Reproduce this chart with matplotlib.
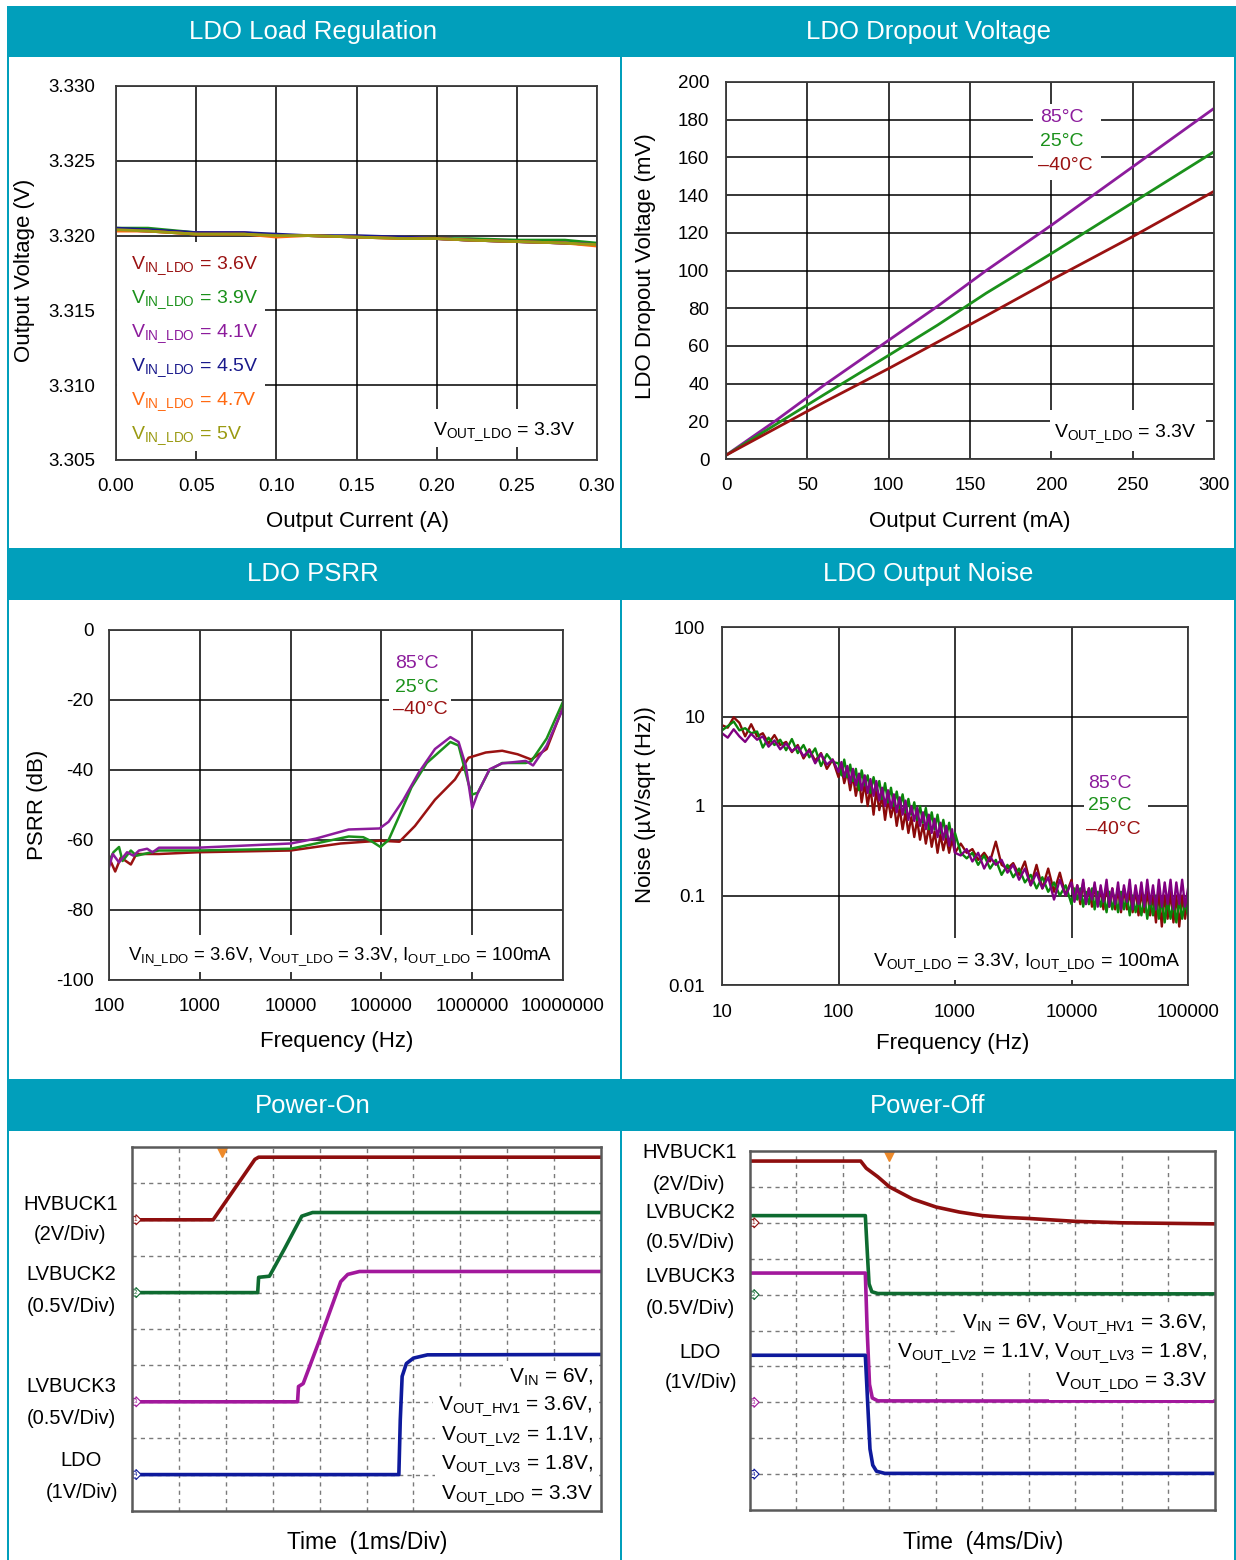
import numpy as np
import matplotlib
matplotlib.use('Agg')
import matplotlib.pyplot as plt
from matplotlib.patches import Rectangle

plt.rcParams['font.family'] = ['Liberation Sans', 'DejaVu Sans']
plt.rcParams['mathtext.fontset'] = 'custom'
plt.rcParams['mathtext.rm'] = 'Liberation Sans'
plt.rcParams['mathtext.it'] = 'Liberation Sans:italic'
plt.rcParams['mathtext.bf'] = 'Liberation Sans:bold'

# ---------------- data ----------------
# Load regulation
load_I = [0, 0.02, 0.05, 0.08, 0.10, 0.12, 0.15, 0.18, 0.20, 0.22, 0.25, 0.28, 0.30]
load_v36 = [3.3204, 3.3203, 3.3201, 3.3201, 3.3200, 3.3200, 3.3199, 3.3198, 3.3198, 3.3197, 3.3196, 3.3195, 3.3194]
load_v39 = [3.3205, 3.3205, 3.3202, 3.3201, 3.3200, 3.3200, 3.3199, 3.3199, 3.3198, 3.3198, 3.3197, 3.3197, 3.3195]
load_v41 = [3.3204, 3.3203, 3.3202, 3.3202, 3.3200, 3.3200, 3.3199, 3.3199, 3.3198, 3.3197, 3.3196, 3.3195, 3.3194]
load_v45 = [3.3205, 3.3204, 3.3202, 3.3202, 3.3201, 3.3200, 3.3200, 3.3199, 3.3198, 3.3197, 3.3196, 3.3195, 3.3194]
load_v47 = [3.3203, 3.3203, 3.3201, 3.3201, 3.3199, 3.3200, 3.3199, 3.3198, 3.3198, 3.3197, 3.3196, 3.3195, 3.3193]
load_v50 = [3.3204, 3.3203, 3.3201, 3.3201, 3.3200, 3.3200, 3.3199, 3.3198, 3.3198, 3.3197, 3.3196, 3.3195, 3.3194]
load_names = ['3.6V', '3.9V', '4.1V', '4.5V', '4.7V', '5V']
load_xticks = [0, 0.05, 0.10, 0.15, 0.20, 0.25, 0.30]
load_yticks = [3.305, 3.310, 3.315, 3.320, 3.325, 3.330]

# Dropout voltage
drop_I = [0, 30, 60, 100, 130, 160, 200, 250, 300]
drop_85 = [2, 20, 39, 63, 81, 100, 124, 155, 186]
drop_25 = [2, 18, 34, 55, 71, 88, 109, 136, 163]
drop_m40 = [2, 16, 30, 48, 62, 76, 95, 118, 142]
drop_xticks = [0, 50, 100, 150, 200, 250, 300]
drop_yticks = [0, 20, 40, 60, 80, 100, 120, 140, 160, 180, 200]

# PSRR
psrr_f85 = [100, 110, 129, 158, 186, 214, 263, 302, 355, 955, 10000, 19000, 43600, 95500, 120000,
            174000, 257000, 389000, 575000, 708000, 851000, 1000000, 1150000, 1550000, 2140000,
            3890000, 4680000, 6610000, 10000000]
psrr_85 = [-67.8, -64, -66.4, -63.5, -64.5, -63, -62.5, -63.5, -62.2, -62.2, -61, -59.6, -57, -56.7, -54.8,
           -48.6, -40.8, -34, -30.6, -32, -38.8, -50.9, -46.6, -39.8, -38.1,
           -37.4, -38.7, -33, -22.4]
psrr_f25 = [100, 112, 129, 141, 174, 200, 355, 955, 10000, 19000, 43600, 63100, 79400, 97700, 120000,
            158000, 214000, 316000, 575000, 708000, 912000, 1000000, 1150000, 1550000, 2140000,
            3890000, 4470000, 6610000, 10000000]
psrr_25 = [-66, -63.5, -62, -66, -63, -64.5, -63, -63, -62.5, -61, -59, -59.2, -60.5, -62, -60,
           -53, -45, -38, -32, -33, -44, -47, -46.5, -40, -38,
           -38, -37.5, -31, -20.5]
psrr_fm40 = [100, 117, 135, 174, 200, 355, 955, 10000, 35500, 95500, 158000, 234000, 389000, 646000,
             912000, 1410000, 2140000, 3160000, 4470000, 6610000, 10000000]
psrr_m40 = [-65, -69, -65, -67, -64, -64, -63.5, -63, -61, -60.2, -60.5, -56, -48.5, -42.7,
            -36.5, -35, -34.5, -35.5, -37, -34, -22]
psrr_xticks = [100, 1000, 10000, 100000, 1000000, 10000000]
psrr_xticklabels = ['100', '1000', '10000', '100000', '1000000', '10000000']
psrr_yticks = [-100, -80, -60, -40, -20, 0]
psrr_yticklabels = ['-100', '-80', '-60', '-40', '-20', '0']

# Output noise (frequency samples: coarse / fine steps inside each decade)
noise_coarse = [1.0, 1.12, 1.26, 1.41, 1.58, 1.78, 2.0, 2.24, 2.51, 2.82,
                3.16, 3.55, 3.98, 4.47, 5.01, 5.62, 6.31, 7.08, 7.94, 8.91]
noise_fine = [1.0, 1.06, 1.12, 1.19, 1.26, 1.33, 1.41, 1.5, 1.58, 1.68,
              1.78, 1.88, 2.0, 2.11, 2.24, 2.37, 2.51, 2.66, 2.82, 2.99,
              3.16, 3.35, 3.55, 3.76, 3.98, 4.22, 4.47, 4.73, 5.01, 5.31,
              5.62, 5.96, 6.31, 6.68, 7.08, 7.5, 7.94, 8.41, 8.91, 9.44]
noise_f = ([b * 10 for b in noise_coarse] + [b * 100 for b in noise_fine] +
           [b * 1000 for b in noise_coarse] + [b * 10000 for b in noise_fine] + [100000])
noise_85 = [6.5, 5.8, 7.2, 6.0, 5.2, 6.4, 5.5, 6.0, 4.6, 5.4, 4.3, 5.0, 4.1, 4.6, 3.6, 4.2, 3.0, 3.8, 2.9, 3.3,
            2.4, 3.1, 2.1, 2.8, 1.8, 2.6, 1.7, 2.3, 1.5, 2.2, 1.4, 2.0, 1.3, 1.9, 1.15, 1.6, 1.0, 1.5, 0.95, 1.35,
            0.85, 1.25, 0.8, 1.15, 0.7, 1.0, 0.68, 0.95, 0.6, 0.85, 0.55, 0.8, 0.5, 0.72, 0.45, 0.65, 0.42, 0.6, 0.36, 0.55,
            0.3, 0.28, 0.33, 0.24, 0.3, 0.2, 0.27, 0.22, 0.25, 0.18, 0.22, 0.15, 0.2, 0.13, 0.18, 0.12, 0.16, 0.09, 0.15, 0.1,
            0.14, 0.085, 0.13, 0.09, 0.15, 0.08, 0.12, 0.09, 0.14, 0.075, 0.13, 0.085, 0.15, 0.075, 0.12, 0.08, 0.14, 0.07, 0.13, 0.085,
            0.15, 0.07, 0.13, 0.08, 0.14, 0.075, 0.15, 0.08, 0.13, 0.07, 0.15, 0.075, 0.14, 0.08, 0.15, 0.07, 0.14, 0.08, 0.15, 0.075,
            0.12]
noise_25 = [7.0, 7.8, 8.8, 7.0, 7.4, 6.5, 6.8, 4.5, 5.8, 4.8, 5.5, 4.2, 5.6, 3.9, 4.8, 3.5, 4.4, 2.8, 3.8, 3.1,
            3.0, 2.2, 3.3, 2.1, 2.9, 1.9, 2.6, 1.5, 2.5, 1.7, 2.2, 1.4, 2.1, 1.5, 1.9, 1.2, 1.8, 1.1, 1.6, 1.0,
            1.45, 0.95, 1.35, 0.85, 1.2, 0.8, 1.1, 0.7, 1.0, 0.65, 0.95, 0.55, 0.85, 0.55, 0.8, 0.5, 0.7, 0.45, 0.65, 0.42,
            0.5, 0.3, 0.26, 0.3, 0.22, 0.28, 0.2, 0.25, 0.17, 0.22, 0.16, 0.2, 0.14, 0.17, 0.12, 0.16, 0.11, 0.14, 0.1, 0.13,
            0.08, 0.12, 0.09, 0.12, 0.075, 0.11, 0.08, 0.12, 0.07, 0.11, 0.075, 0.1, 0.065, 0.11, 0.07, 0.1, 0.065, 0.11, 0.07, 0.1,
            0.06, 0.1, 0.065, 0.09, 0.06, 0.1, 0.055, 0.09, 0.06, 0.1, 0.055, 0.09, 0.05, 0.09, 0.055, 0.085, 0.05, 0.09, 0.055, 0.085,
            0.06]
noise_m40 = [8.0, 7.5, 9.8, 8.5, 6.0, 8.2, 6.0, 6.5, 5.0, 6.2, 4.8, 5.2, 4.0, 4.8, 3.4, 4.3, 3.2, 3.9, 2.6, 3.3,
             2.1, 2.7, 1.8, 2.4, 1.5, 2.2, 1.3, 2.0, 1.1, 1.8, 1.0, 1.6, 0.8, 1.5, 0.9, 1.3, 0.7, 1.2, 0.75, 1.05,
             0.6, 0.95, 0.55, 0.85, 0.5, 0.75, 0.45, 0.7, 0.42, 0.62, 0.38, 0.58, 0.35, 0.52, 0.3, 0.48, 0.32, 0.45, 0.3, 0.42,
             0.3, 0.38, 0.3, 0.33, 0.25, 0.3, 0.24, 0.4, 0.22, 0.2, 0.23, 0.17, 0.24, 0.13, 0.22, 0.12, 0.2, 0.11, 0.18, 0.1,
             0.15, 0.09, 0.13, 0.08, 0.14, 0.085, 0.12, 0.075, 0.13, 0.08, 0.12, 0.07, 0.13, 0.075, 0.12, 0.07, 0.12, 0.065, 0.12, 0.07,
             0.11, 0.065, 0.12, 0.06, 0.11, 0.065, 0.11, 0.06, 0.1, 0.05, 0.11, 0.045, 0.1, 0.055, 0.11, 0.05, 0.1, 0.045, 0.1, 0.055,
             0.1]
noise_xticks = [10, 100, 1000, 10000, 100000]
noise_xticklabels = ['10', '100', '1000', '10000', '100000']
noise_yticks = [0.01, 0.1, 1, 10, 100]
noise_yticklabels = ['0.01', '0.1', '1', '10', '100']

# Power-on scope traces (divisions)
on_hv1_t = [0, 1.73, 2.62, 2.70, 10]
on_hv1_v = [8.0, 8.0, 9.66, 9.72, 9.72]
on_lv2_t = [0, 2.68, 2.70, 2.93, 3.25, 3.62, 3.85, 10]
on_lv2_v = [6.0, 6.0, 6.42, 6.45, 7.2, 8.1, 8.2, 8.2]
on_lv3_t = [0, 3.53, 3.55, 3.65, 4.0, 4.45, 4.6, 4.85, 10]
on_lv3_v = [3.0, 3.0, 3.42, 3.5, 4.7, 6.3, 6.5, 6.58, 6.58]
on_ldo_t = [0, 5.69, 5.72, 5.76, 5.85, 6.0, 6.3, 10]
on_ldo_v = [1.0, 1.0, 2.5, 3.7, 4.05, 4.2, 4.29, 4.3]
on_trigger = 1.92

# Power-off scope traces (divisions)
off_hv1_t = [0, 2.38, 2.5, 2.75, 3.0, 3.5, 4.0, 4.5, 5.0, 5.5, 6.0, 7.0, 8.0, 10]
off_hv1_v = [9.72, 9.72, 9.52, 9.28, 9.0, 8.66, 8.44, 8.3, 8.2, 8.15, 8.12, 8.04, 8.0, 7.97]
off_lv2_t = [0, 2.48, 2.53, 2.56, 2.62, 2.75, 10]
off_lv2_v = [8.2, 8.2, 7.0, 6.3, 6.08, 6.03, 6.02]
off_lv3_t = [0, 2.48, 2.52, 2.57, 2.63, 2.75, 10]
off_lv3_v = [6.6, 6.6, 5.0, 3.5, 3.12, 3.04, 3.03]
off_ldo_t = [0, 2.48, 2.53, 2.58, 2.64, 2.72, 2.9, 10]
off_ldo_v = [4.31, 4.31, 3.0, 1.7, 1.25, 1.08, 1.02, 1.02]
off_trigger = 3.0
gnd_levels = [8.0, 6.0, 3.0, 1.0]

# ---------------- style ----------------
TEAL = '#019FBB'
C_RED = '#9A1212'
C_GRN = '#1B911B'
C_PUR = '#8C1C9C'
C_NAV = '#1A1A8C'
C_ORG = '#FF6A12'
C_OLV = '#9A9A12'
N_RED = '#8B0A0A'
N_GRN = '#0A850A'
N_PUR = '#800080'
S_RED = '#8E0E0E'
S_GRN = '#0E6B30'
S_MAG = '#A2189C'
S_BLU = '#0E1A9C'

W, H = 1236, 1560
fig = plt.figure(figsize=(W / 100, H / 100), dpi=100)
bg = fig.add_axes([0, 0, 1, 1])
bg.set_xlim(0, W)
bg.set_ylim(H, 0)
bg.axis('off')

# frame and headers
for (x, y, w, h) in [(7, 6, 2, H), (620, 6, 2, H), (1234, 6, 2, H),
                     (7, 6, 1229, 51), (7, 548, 1229, 52), (7, 1079, 1229, 52)]:
    bg.add_patch(Rectangle((x, y), w, h, fc=TEAL, ec='none'))
for (tx, ty, s) in [(313, 32, 'LDO Load Regulation'), (928, 32, 'LDO Dropout Voltage'),
                    (313, 574, 'LDO PSRR'), (928, 574, 'LDO Output Noise'),
                    (313, 1106, 'Power-On'), (928, 1106, 'Power-Off')]:
    bg.text(tx, ty, s, color='white', fontsize=18.5, ha='center', va='center')


def pax(l, t, r, b):
    return fig.add_axes([l / W, 1 - b / H, (r - l) / W, (b - t) / H])


def style(ax):
    ax.set_axisbelow(True)
    ax.grid(True, which='major', color='black', lw=1.1)
    ax.tick_params(which='both', length=0, labelsize=13.5, colors='black')
    for s in ax.spines.values():
        s.set_color('#3a3a3a')
        s.set_linewidth(1.3)


def wrect(ax, x0, y0, x1, y1):
    ax.add_patch(Rectangle((x0, y0), x1 - x0, y1 - y0, transform=bg.transData,
                           fc='white', ec='none', zorder=1))


def ptext(ax, x, y, s, color='black', ha='left', size=14, **kw):
    ax.text(x, y, s, transform=bg.transData, color=color, ha=ha, va='center',
            fontsize=size, zorder=4, **kw)


def sub(main, s):
    return main + r'$_{\mathrm{' + s + '}}$'


VIN = sub('V', r'IN\_LDO')
VOUT = sub('V', r'OUT\_LDO')
IOUT = sub('I', r'OUT\_LDO')

# ---------------- Panel 1: load regulation ----------------
ax1 = pax(116, 86, 597, 460)
style(ax1)
cols1 = [C_RED, C_GRN, C_PUR, C_NAV, C_ORG, C_OLV]
for v, c in zip([load_v36, load_v39, load_v41, load_v45, load_v47, load_v50], cols1):
    ax1.plot(load_I, v, color=c, lw=2.0, zorder=2)
ax1.set_xlim(0, 0.30)
ax1.set_ylim(3.305, 3.330)
ax1.set_xticks(load_xticks)
ax1.set_xticklabels(['%.2f' % v for v in load_xticks])
ax1.set_yticks(load_yticks)
ax1.set_yticklabels(['%.3f' % v for v in load_yticks])
ax1.tick_params(axis='x', pad=13)
ax1.tick_params(axis='y', pad=15)
wrect(ax1, 117, 242, 265, 451)
for i, (name, c) in enumerate(zip(load_names, cols1)):
    ptext(ax1, 131, 266 + 34 * i, VIN + ' = ' + name, color=c)
wrect(ax1, 431, 409, 585, 447)
ptext(ax1, 433, 432, VOUT + ' = 3.3V')
bg.text(357, 521, 'Output Current (A)', fontsize=16, ha='center', va='center')
bg.text(25, 270, 'Output Voltage (V)', fontsize=16, ha='center', va='center', rotation=90)

# ---------------- Panel 2: dropout ----------------
ax2 = pax(726, 82, 1214, 459)
style(ax2)
ax2.plot(drop_I, drop_85, color=C_PUR, lw=2.0, zorder=2)
ax2.plot(drop_I, drop_25, color=C_GRN, lw=2.0, zorder=2)
ax2.plot(drop_I, drop_m40, color=C_RED, lw=2.0, zorder=2)
ax2.set_xlim(0, 300)
ax2.set_ylim(0, 200)
ax2.set_xticks(drop_xticks)
ax2.set_yticks(drop_yticks)
ax2.tick_params(axis='x', pad=13)
ax2.tick_params(axis='y', pad=12)
wrect(ax2, 1033, 104, 1101, 180)
ptext(ax2, 1040, 118, '85°C', color=C_PUR)
ptext(ax2, 1040, 142, '25°C', color=C_GRN)
ptext(ax2, 1038, 166, '–40°C', color=C_RED)
wrect(ax2, 1050, 410, 1206, 451)
ptext(ax2, 1054, 434, VOUT + ' = 3.3V')
bg.text(970, 521, 'Output Current (mA)', fontsize=16, ha='center', va='center')
bg.text(646, 266, 'LDO Dropout Voltage (mV)', fontsize=16, ha='center', va='center', rotation=90)

# ---------------- Panel 3: PSRR ----------------
ax3 = pax(109, 630, 563, 980)
ax3.set_xscale('log')
style(ax3)
ax3.minorticks_off()
ax3.plot(psrr_fm40, psrr_m40, color=C_RED, lw=1.8, zorder=2)
ax3.plot(psrr_f25, psrr_25, color=C_GRN, lw=1.8, zorder=2)
ax3.plot(psrr_f85, psrr_85, color=C_PUR, lw=1.8, zorder=2)
ax3.set_xlim(100, 1e7)
ax3.set_ylim(-100, 0)
ax3.set_xticks(psrr_xticks)
ax3.set_xticklabels(psrr_xticklabels)
ax3.set_yticks(psrr_yticks)
ax3.set_yticklabels(psrr_yticklabels)
ax3.tick_params(axis='x', pad=13)
ax3.tick_params(axis='y', pad=11)
wrect(ax3, 389, 650, 451, 722)
ptext(ax3, 395, 664, '85°C', color=C_PUR)
ptext(ax3, 395, 687, '25°C', color=C_GRN)
ptext(ax3, 393, 710, '–40°C', color=C_RED)
wrect(ax3, 120, 935, 556, 972)
ptext(ax3, 128, 957, VIN + ' = 3.6V, ' + VOUT + ' = 3.3V, ' + IOUT + ' = 100mA', size=13.4)
bg.text(337, 1042, 'Frequency (Hz)', fontsize=16, ha='center', va='center')
bg.text(38, 805, 'PSRR (dB)', fontsize=16, ha='center', va='center', rotation=90)

# ---------------- Panel 4: noise ----------------
ax4 = pax(722, 627, 1188, 985)
ax4.set_xscale('log')
ax4.set_yscale('log')
style(ax4)
ax4.minorticks_off()
ax4.plot(noise_f, noise_m40, color=N_RED, lw=1.7, zorder=2)
ax4.plot(noise_f, noise_25, color=N_GRN, lw=1.7, zorder=2)
ax4.plot(noise_f, noise_85, color=N_PUR, lw=1.7, zorder=2)
ax4.set_xlim(10, 1e5)
ax4.set_ylim(0.01, 100)
ax4.set_xticks(noise_xticks)
ax4.set_xticklabels(noise_xticklabels)
ax4.set_yticks(noise_yticks)
ax4.set_yticklabels(noise_yticklabels)
ax4.tick_params(axis='x', pad=14)
ax4.tick_params(axis='y', pad=12)
wrect(ax4, 1084, 770, 1148, 843)
ptext(ax4, 1088, 783, '85°C', color=C_PUR)
ptext(ax4, 1088, 806, '25°C', color=C_GRN)
ptext(ax4, 1086, 830, '–40°C', color=C_RED)
wrect(ax4, 865, 938, 1182, 980)
ptext(ax4, 873, 963, VOUT + ' = 3.3V, ' + IOUT + ' = 100mA')
bg.text(953, 1044, 'Frequency (Hz)', fontsize=16, ha='center', va='center')
bg.text(646, 805, 'Noise (µV/sqrt (Hz))', fontsize=16, ha='center', va='center', rotation=90)


# ---------------- scope panels ----------------
def scope(l, t, r, b):
    ax = pax(l, t, r, b)
    ax.set_xlim(0, 10)
    ax.set_ylim(0, 10)
    ax.set_xticks(range(1, 10))
    ax.set_yticks(range(1, 10))
    ax.set_axisbelow(True)
    ax.grid(True, color='#7a7a7a', lw=1.0, ls=(0, (3, 3)))
    ax.tick_params(length=0, labelbottom=False, labelleft=False)
    for s in ax.spines.values():
        s.set_color('#5a5a5a')
        s.set_linewidth(1.8)
        s.set_zorder(6)
    return ax


def ch_markers(ax, cols):
    for i, (lvl, c) in enumerate(zip(gnd_levels, cols)):
        ax.text(0.04, lvl, str(i + 1), fontsize=4.5, color=c, ha='left', va='center', zorder=5,
                bbox=dict(boxstyle='rarrow,pad=0.15', fc='white', ec=c, lw=0.8))


scols = [S_RED, S_GRN, S_MAG, S_BLU]
ax5 = scope(132, 1147, 601, 1511)
for (t, v), c in zip([(on_hv1_t, on_hv1_v), (on_lv2_t, on_lv2_v),
                      (on_lv3_t, on_lv3_v), (on_ldo_t, on_ldo_v)], scols):
    ax5.plot(t, v, color=c, lw=2.6, zorder=2)
ch_markers(ax5, scols)
ax5.plot([on_trigger], [9.85], marker='v', color='#EE8A2A', ms=7, zorder=5, clip_on=False)
on_lines = [sub('V', 'IN') + ' = 6V,', sub('V', r'OUT\_HV1') + ' = 3.6V,',
            sub('V', r'OUT\_LV2') + ' = 1.1V,', sub('V', r'OUT\_LV3') + ' = 1.8V,',
            sub('V', r'OUT\_LDO') + ' = 3.3V']
for i, s in enumerate(on_lines):
    ax5.text(593, 1377 + 29.5 * i, s, transform=bg.transData, ha='right', va='center',
             fontsize=15, zorder=4, bbox=dict(fc='white', ec='none', pad=4.0))
for (x, y, s) in [(71, 1204, 'HVBUCK1'), (70, 1235, '(2V/Div)'), (71, 1274, 'LVBUCK2'),
                  (71, 1306, '(0.5V/Div)'), (71, 1387, 'LVBUCK3'), (71, 1418, '(0.5V/Div)'),
                  (81, 1461, 'LDO'), (82, 1492, '(1V/Div)')]:
    bg.text(x, y, s, fontsize=14.5, ha='center', va='center')
bg.text(367, 1543, 'Time  (1ms/Div)', fontsize=16.5, ha='center', va='center')

ax6 = scope(750, 1151, 1215, 1510)
for (t, v), c in zip([(off_hv1_t, off_hv1_v), (off_lv2_t, off_lv2_v),
                      (off_lv3_t, off_lv3_v), (off_ldo_t, off_ldo_v)], scols):
    ax6.plot(t, v, color=c, lw=2.6, zorder=2)
ch_markers(ax6, scols)
ax6.plot([off_trigger], [9.85], marker='v', color='#EE8A2A', ms=7, zorder=5, clip_on=False)
off_lines = [sub('V', 'IN') + ' = 6V, ' + sub('V', r'OUT\_HV1') + ' = 3.6V,',
             sub('V', r'OUT\_LV2') + ' = 1.1V, ' + sub('V', r'OUT\_LV3') + ' = 1.8V,',
             sub('V', r'OUT\_LDO') + ' = 3.3V']
for i, s in enumerate(off_lines):
    ax6.text(1207, 1324 + 29 * i, s, transform=bg.transData, ha='right', va='center',
             fontsize=15, zorder=4, bbox=dict(fc='white', ec='none', pad=4.0))
for (x, y, s) in [(690, 1153, 'HVBUCK1'), (689, 1184, '(2V/Div)'), (690, 1213, 'LVBUCK2'),
                  (690, 1243, '(0.5V/Div)'), (690, 1277, 'LVBUCK3'), (690, 1308, '(0.5V/Div)'),
                  (700, 1352, 'LDO'), (701, 1382, '(1V/Div)')]:
    bg.text(x, y, s, fontsize=14.5, ha='center', va='center')
bg.text(983, 1543, 'Time  (4ms/Div)', fontsize=16.5, ha='center', va='center')

fig.savefig('out.png', dpi=100)
